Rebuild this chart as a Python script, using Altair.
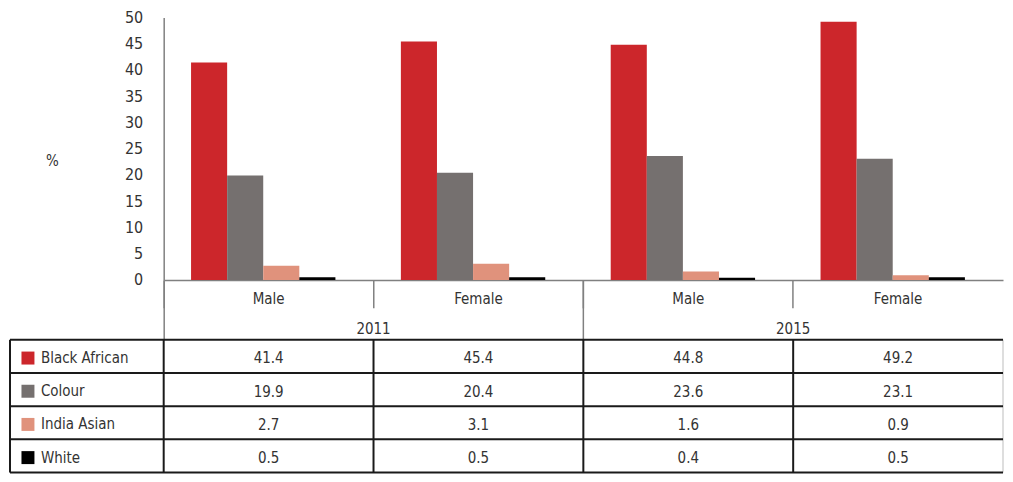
import altair as alt
import pandas as pd

# ---- data ----
years = ["2011", "2011", "2015", "2015"]
sexes = ["Male", "Female", "Male", "Female"]
series = ["Black African", "Colour", "India Asian", "White"]
black_african = [41.4, 45.4, 44.8, 49.2]
colour = [19.9, 20.4, 23.6, 23.1]
india_asian = [2.7, 3.1, 1.6, 0.9]
white = [0.5, 0.5, 0.4, 0.5]
y_ticks = [0, 5, 10, 15, 20, 25, 30, 35, 40, 45, 50]
colors = ["#CC262B", "#75706F", "#E0927C", "#000000"]

# ---- styling ----
FONT = "DejaVu Sans Condensed, Liberation Sans Narrow, sans-serif"
TEXT = "#333333"
AXIS_GRAY = "#808080"
TABLE_LINE = "#1a1a1a"

W = 841         # width of the 4 data columns
LEFT_PX = 154   # width of the label column
H_TOP = 263     # bar plot height
GAP = 60        # axis-label band between plot and table
H_TAB = 133     # table height
COL_PX = W / len(years)
LEFT_COL = LEFT_PX / COL_PX          # label column width in column units
SWATCH_OFF = 18 / COL_PX             # swatch centre from the left border

cats = [f"{y}|{s}" for y, s in zip(years, sexes)]
unique_years = sorted(set(years))
all_values = [black_african, colour, india_asian, white]

rows = []
for si, (name, vals) in enumerate(zip(series, all_values)):
    for ci, (cat, v) in enumerate(zip(cats, vals)):
        rows.append({"cat": cat, "series": name, "value": v,
                     "row": si, "col": ci, "label": f"{v:.1f}"})
df = pd.DataFrame(rows)

color_scale = alt.Scale(domain=series, range=colors)

bars = alt.Chart(df).mark_bar().encode(
    x=alt.X("cat:N", sort=cats,
            scale=alt.Scale(domain=cats, paddingInner=0, paddingOuter=0),
            axis=alt.Axis(title=None, orient="bottom",
                          labelExpr="split(datum.value, '|')[1]", labelAngle=0,
                          bandPosition=0, tickSize=28, tickColor=AXIS_GRAY,
                          tickWidth=1.5, domainColor=AXIS_GRAY, domainWidth=1.5,
                          labelPadding=-9, labelBaseline="middle",
                          labelFont=FONT, labelFontSize=15, labelColor=TEXT)),
    xOffset=alt.XOffset("series:N", sort=series,
                        scale=alt.Scale(domain=series, paddingInner=0,
                                        paddingOuter=0.907, align=0.418)),
    y=alt.Y("value:Q", scale=alt.Scale(domain=[0, 50], nice=False),
            axis=alt.Axis(values=y_ticks, title="%", titleAngle=0,
                          titleX=-112, titleY=143, titleAlign="center",
                          titleBaseline="middle", titleFont=FONT,
                          titleFontSize=15, titleFontWeight="normal",
                          titleColor=TEXT, grid=False, ticks=False,
                          domainColor=AXIS_GRAY, domainWidth=1.5,
                          labelPadding=21, labelFont=FONT, labelFontSize=16,
                          labelColor=TEXT)),
    color=alt.Color("series:N", scale=color_scale, legend=None),
)

year_df = pd.DataFrame({"year": unique_years})
year_axis = alt.Chart(year_df).mark_tick(opacity=0).encode(
    x=alt.X("year:N", sort=unique_years,
            scale=alt.Scale(domain=unique_years, paddingInner=0, paddingOuter=0),
            axis=alt.Axis(title=None, orient="bottom", labelAngle=0,
                          bandPosition=0, tickSize=GAP, tickColor=AXIS_GRAY,
                          tickWidth=1.5, domain=False,
                          labelPadding=-11, labelBaseline="middle",
                          labelFont=FONT, labelFontSize=15, labelColor=TEXT)),
)

top = alt.layer(bars, year_axis).resolve_scale(x="independent").properties(
    width=W, height=H_TOP)

# ---- table ----
tx = alt.Scale(domain=[0, len(cats)], nice=False, zero=False)
ty = alt.Scale(domain=[0, len(series)], nice=False, zero=False, reverse=True)

cells = alt.Chart(df).transform_calculate(
    xc="datum.col + 0.5", yc="datum.row + 0.5"
).mark_text(font=FONT, fontSize=15, color=TEXT, dy=2).encode(
    x=alt.X("xc:Q", scale=tx, axis=None),
    y=alt.Y("yc:Q", scale=ty, axis=None),
    text="label:N",
)

series_df = pd.DataFrame({"series": series, "row": list(range(len(series)))})
series_df["x0"] = -LEFT_COL
series_df["xs"] = -LEFT_COL + SWATCH_OFF
series_df["yc"] = series_df["row"] + 0.55

swatches = alt.Chart(series_df).mark_square(size=169, opacity=1).encode(
    x=alt.X("xs:Q", scale=tx, axis=None),
    y=alt.Y("yc:Q", scale=ty, axis=None),
    color=alt.Color("series:N", scale=color_scale, legend=None),
)

row_labels = alt.Chart(series_df).mark_text(
    font=FONT, fontSize=15, color=TEXT, align="left", dx=31
).encode(
    x=alt.X("x0:Q", scale=tx, axis=None),
    y=alt.Y("yc:Q", scale=ty, axis=None),
    text="series:N",
)

hlines = pd.DataFrame({"y": list(range(len(series) + 1))})
hlines["x0"] = -LEFT_COL
hlines["x1"] = len(cats)
vlines = pd.DataFrame({"x": [-LEFT_COL] + list(range(len(cats)))})
vlines["y0"] = 0
vlines["y1"] = len(series)
edge = pd.DataFrame({"x": [len(cats)], "y0": [0], "y1": [len(series)]})

hrules = alt.Chart(hlines).mark_rule(color=TABLE_LINE, strokeWidth=2).encode(
    x=alt.X("x0:Q", scale=tx, axis=None), x2="x1:Q",
    y=alt.Y("y:Q", scale=ty, axis=None),
)
vrules = alt.Chart(vlines).mark_rule(color=TABLE_LINE, strokeWidth=2).encode(
    x=alt.X("x:Q", scale=tx, axis=None),
    y=alt.Y("y0:Q", scale=ty, axis=None), y2="y1:Q",
)
edge_rule = alt.Chart(edge).mark_rule(color="#bdbdbd", strokeWidth=1).encode(
    x=alt.X("x:Q", scale=tx, axis=None),
    y=alt.Y("y0:Q", scale=ty, axis=None), y2="y1:Q",
)

table = alt.layer(edge_rule, hrules, vrules, swatches, row_labels, cells).properties(
    width=W, height=H_TAB)

chart = alt.vconcat(top, table, spacing=GAP, bounds="flush").properties(
    padding=0
).configure_view(stroke="transparent")

chart.save("out.html", embed_options={"renderer": "svg", "actions": False})
